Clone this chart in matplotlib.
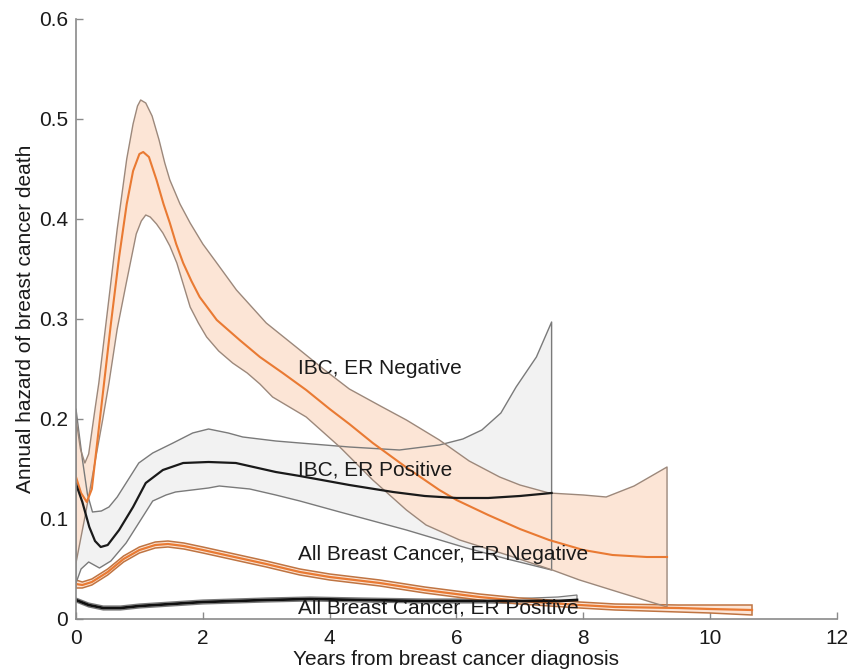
import matplotlib
matplotlib.use("Agg")
import matplotlib.pyplot as plt

plt.rcParams['font.family'] = ['Liberation Sans', 'DejaVu Sans']

# ---- IBC, ER Negative ----
ibcneg_mean_x = [0, 0.08, 0.17, 0.25, 0.35, 0.45, 0.55, 0.68, 0.8, 0.9, 1.0, 1.06, 1.15, 1.27, 1.38, 1.48,
                 1.58, 1.69, 1.82, 1.95, 2.22, 2.58, 2.9, 3.26, 3.63, 4.0, 4.31, 4.68, 5.2, 5.73, 6.0, 6.5,
                 7.0, 7.46, 8.0, 8.46, 9.0, 9.32]
ibcneg_mean_y = [0.142, 0.126, 0.117, 0.13, 0.185, 0.24, 0.295, 0.362, 0.415, 0.448, 0.465, 0.467, 0.462,
                 0.439, 0.415, 0.396, 0.375, 0.356, 0.338, 0.322, 0.299, 0.279, 0.262, 0.246, 0.229, 0.21,
                 0.195, 0.176, 0.152, 0.129, 0.119, 0.104, 0.09, 0.079, 0.069, 0.064, 0.062, 0.062]
ibcneg_hi_x = [0, 0.07, 0.14, 0.2, 0.3, 0.36, 0.5, 0.65, 0.8, 0.9, 0.97, 1.02, 1.1, 1.2, 1.31, 1.4, 1.48,
               1.64, 1.8, 2.0, 2.22, 2.53, 3.0, 3.53, 3.9, 4.31, 4.8, 5.21, 5.73, 6.2, 6.68, 7.0, 7.46,
               8.0, 8.36, 8.8, 9.32]
ibcneg_hi_y = [0.2, 0.17, 0.156, 0.165, 0.21, 0.236, 0.31, 0.39, 0.46, 0.495, 0.513, 0.519, 0.516, 0.503,
               0.479, 0.456, 0.439, 0.415, 0.396, 0.375, 0.356, 0.329, 0.296, 0.269, 0.25, 0.23, 0.213,
               0.199, 0.179, 0.158, 0.142, 0.134, 0.126, 0.124, 0.122, 0.133, 0.152]
ibcneg_lo_x = [0, 0.15, 0.3, 0.42, 0.52, 0.65, 0.79, 0.95, 1.03, 1.1, 1.17, 1.27, 1.37, 1.48, 1.59, 1.7,
               1.8, 1.93, 2.06, 2.25, 2.47, 2.7, 2.9, 3.1, 3.63, 4.16, 4.68, 5.21, 5.52, 6.05, 6.8, 7.51,
               7.94, 8.6, 9.32]
ibcneg_lo_y = [0.056, 0.105, 0.157, 0.199, 0.236, 0.29, 0.335, 0.385, 0.398, 0.404, 0.402, 0.395, 0.386,
               0.373, 0.356, 0.333, 0.312, 0.296, 0.282, 0.268, 0.256, 0.246, 0.235, 0.222, 0.202, 0.172,
               0.139, 0.109, 0.094, 0.079, 0.064, 0.049, 0.039, 0.026, 0.012]

# ---- IBC, ER Positive ----
ibcpos_mean_x = [0, 0.1, 0.21, 0.3, 0.39, 0.5, 0.68, 0.9, 1.1, 1.37, 1.69, 2.09, 2.52, 3.15, 3.53, 4.31,
                 5.0, 5.5, 6.0, 6.5, 7.0, 7.5]
ibcpos_mean_y = [0.135, 0.117, 0.092, 0.078, 0.072, 0.074, 0.089, 0.112, 0.136, 0.149, 0.156, 0.157,
                 0.156, 0.147, 0.143, 0.134, 0.127, 0.123, 0.121, 0.121, 0.123, 0.126]
ibcpos_hi_x = [0, 0.1, 0.18, 0.26, 0.4, 0.52, 0.65, 0.79, 0.99, 1.21, 1.53, 1.84, 2.09, 2.4, 2.63, 3.15,
               3.53, 4.31, 5.1, 5.73, 6.1, 6.4, 6.7, 6.94, 7.26, 7.5]
ibcpos_hi_y = [0.21, 0.16, 0.125, 0.107, 0.108, 0.112, 0.122, 0.136, 0.156, 0.166, 0.176, 0.186, 0.19,
               0.186, 0.182, 0.178, 0.176, 0.172, 0.169, 0.174, 0.18, 0.189, 0.206, 0.232, 0.262, 0.297]
ibcpos_lo_x = [0, 0.08, 0.2, 0.37, 0.55, 0.79, 1.05, 1.21, 1.42, 1.57, 2.09, 2.26, 2.74, 3.15, 3.53, 4.16,
               5.21, 6.16, 6.8, 7.5]
ibcpos_lo_y = [0.036, 0.05, 0.057, 0.051, 0.058, 0.076, 0.102, 0.118, 0.124, 0.127, 0.131, 0.133, 0.13,
               0.124, 0.118, 0.107, 0.089, 0.071, 0.06, 0.049]

# ---- All Breast Cancer, ER Negative ----
allneg_x = [0, 0.1, 0.25, 0.5, 0.75, 1.0, 1.25, 1.45, 1.7, 2.0, 2.5, 3.0, 3.53, 4.0, 4.79, 5.5, 6.36,
            7.0, 7.94, 8.5, 9.5, 10.0, 10.66]
allneg_mean = [0.035, 0.034, 0.037, 0.047, 0.06, 0.069, 0.074, 0.075, 0.073, 0.069, 0.062, 0.055, 0.047,
               0.042, 0.036, 0.029, 0.022, 0.018, 0.014, 0.012, 0.011, 0.01, 0.009]
allneg_lo = [0.031, 0.031, 0.034, 0.044, 0.057, 0.066, 0.071, 0.072, 0.070, 0.066, 0.059, 0.052, 0.044,
             0.039, 0.033, 0.026, 0.019, 0.015, 0.011, 0.009, 0.007, 0.006, 0.004]
allneg_hi = [0.039, 0.037, 0.040, 0.050, 0.063, 0.072, 0.077, 0.078, 0.076, 0.072, 0.065, 0.058, 0.050,
             0.045, 0.039, 0.032, 0.025, 0.021, 0.017, 0.015, 0.014, 0.014, 0.014]

# ---- All Breast Cancer, ER Positive ----
allpos_x = [0, 0.2, 0.43, 0.7, 1.0, 1.5, 2.0, 3.0, 3.69, 4.5, 5.5, 6.5, 7.2, 7.6, 7.9]
allpos_mean = [0.019, 0.014, 0.011, 0.011, 0.013, 0.015, 0.017, 0.019, 0.02, 0.019, 0.018, 0.018, 0.018,
               0.018, 0.019]
allpos_lo = [0.017, 0.012, 0.009, 0.009, 0.011, 0.013, 0.015, 0.017, 0.018, 0.017, 0.016, 0.016, 0.015,
             0.015, 0.014]
allpos_hi = [0.021, 0.016, 0.013, 0.013, 0.015, 0.017, 0.019, 0.021, 0.022, 0.021, 0.020, 0.020, 0.021,
             0.022, 0.024]

labels = ["IBC, ER Negative", "IBC, ER Positive",
          "All Breast Cancer, ER Negative", "All Breast Cancer, ER Positive"]
label_x = [3.5, 3.5, 3.5, 3.5]
label_y = [0.25, 0.149, 0.064, 0.011]

xticks = [0, 2, 4, 6, 8, 10, 12]
yticks = [0, 0.1, 0.2, 0.3, 0.4, 0.5, 0.6]
ytick_labels = ["0", "0.1", "0.2", "0.3", "0.4", "0.5", "0.6"]

ORANGE = '#E97A33'
PEACH = '#FCE5D6'
BROWN = '#9c887b'
GREYFILL = '#F2F2F2'
GREYLINE = '#7a7a7a'

fig = plt.figure(figsize=(8.5, 6.71), dpi=100)
ax = fig.add_axes([0.0894, 0.0775, 0.8953, 0.8942])


def polygon(xs_lo, ys_lo, xs_hi, ys_hi):
    px = list(xs_lo) + list(reversed(xs_hi))
    py = list(ys_lo) + list(reversed(ys_hi))
    return px, py


gpx, gpy = polygon(ibcpos_lo_x, ibcpos_lo_y, ibcpos_hi_x, ibcpos_hi_y)
opx, opy = polygon(ibcneg_lo_x, ibcneg_lo_y, ibcneg_hi_x, ibcneg_hi_y)

# fills
ax.fill(gpx, gpy, facecolor=GREYFILL, edgecolor='none', zorder=1)
ax.fill(opx, opy, facecolor=PEACH, edgecolor='none', zorder=2)
ax.fill(*polygon(allpos_x, allpos_lo, allpos_x, allpos_hi),
        facecolor=GREYFILL, edgecolor=GREYLINE, lw=0.9, zorder=3)
ax.fill(*polygon(allneg_x, allneg_lo, allneg_x, allneg_hi),
        facecolor=PEACH, edgecolor='#bf7442', lw=1.1, zorder=3)

# outlines
ax.fill(gpx, gpy, facecolor='none', edgecolor=GREYLINE, lw=1.0, zorder=4, joinstyle='round')
ax.fill(opx, opy, facecolor='none', edgecolor=BROWN, lw=1.0, zorder=4, joinstyle='round')

# means
ax.plot(ibcneg_mean_x, ibcneg_mean_y, color=ORANGE, lw=1.5, zorder=5, solid_joinstyle='round')
ax.plot(ibcpos_mean_x, ibcpos_mean_y, color='#1a1a1a', lw=1.6, zorder=5, solid_joinstyle='round')
ax.plot(allneg_x, allneg_mean, color=ORANGE, lw=1.6, zorder=5, solid_joinstyle='round')
ax.plot(allpos_x, allpos_mean, color='#111111', lw=2.0, zorder=5, solid_joinstyle='round')

for t, lx, ly in zip(labels, label_x, label_y):
    ax.text(lx, ly, t, fontsize=15, color='#1a1a1a', va='center', ha='left', zorder=6)

ax.set_xlim(0, 12)
ax.set_ylim(0, 0.6)
ax.set_xticks(xticks)
ax.set_xticklabels([str(v) for v in xticks])
ax.set_yticks(yticks)
ax.set_yticklabels(ytick_labels)
for s in ['top', 'right']:
    ax.spines[s].set_visible(False)
for s in ['left', 'bottom']:
    ax.spines[s].set_color('#8a8a8a')
    ax.spines[s].set_linewidth(1.2)
ax.tick_params(direction='in', length=5, width=1, color='#8a8a8a', labelsize=15,
               labelcolor='#1a1a1a')
ax.tick_params(axis='x', pad=7)
ax.tick_params(axis='y', pad=5.5)
ax.set_xlabel("Years from breast cancer diagnosis", fontsize=15, color='#1a1a1a', labelpad=1.5)
ax.set_ylabel("Annual hazard of breast cancer death", fontsize=15, color='#1a1a1a', labelpad=3)
for sp in ax.spines.values():
    sp.set_zorder(7)

fig.savefig("out.png", dpi=100)
